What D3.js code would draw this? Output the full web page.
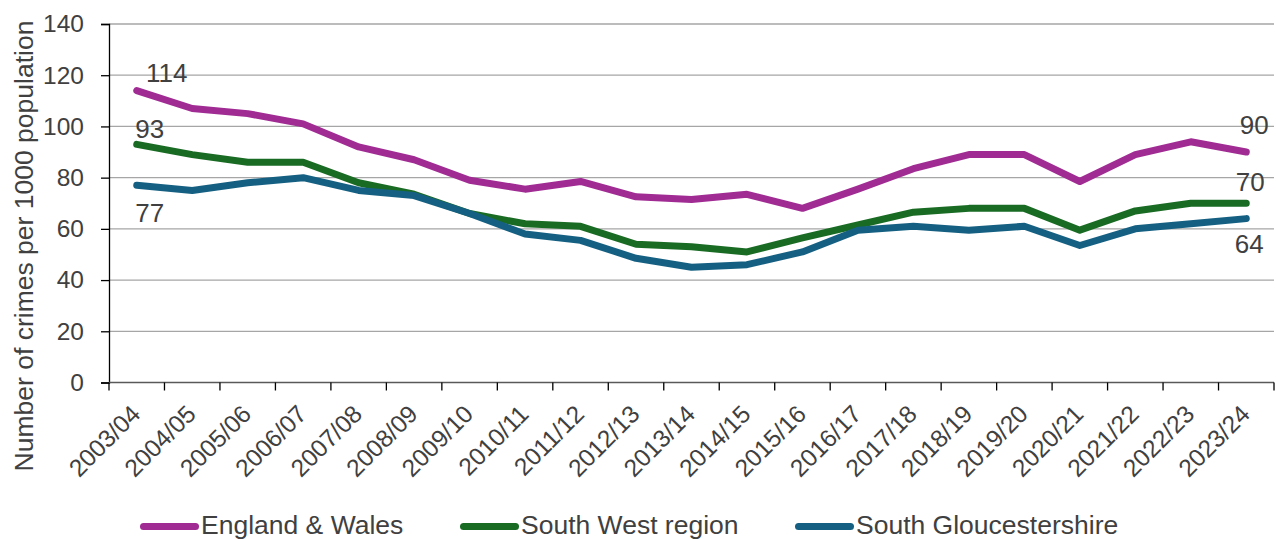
<!DOCTYPE html>
<html>
<head>
<meta charset="utf-8">
<script src="https://cdn.jsdelivr.net/npm/d3@7"></script>
<style>
  html, body { margin: 0; padding: 0; background: #fff; }
  svg { display: block; font-family: Arial, "Liberation Sans", sans-serif; }
</style>
</head>
<body>
<svg id="chart" width="1276" height="539"></svg>
<script>
const years = ["2003/04","2004/05","2005/06","2006/07","2007/08","2008/09","2009/10","2010/11","2011/12","2012/13","2013/14","2014/15","2015/16","2016/17","2017/18","2018/19","2019/20","2020/21","2021/22","2022/23","2023/24"];
const englandWales = [114,107,105,101,92,87,79,75.5,78.5,72.5,71.5,73.5,68,75.5,83.5,89,89,78.5,89,94,90];
const southWest = [93,89,86,86,78,73.5,66,62,61,54,53,51,56.5,61.5,66.5,68,68,59.5,67,70,70];
const southGlos = [77,75,78,80,75,73,66,58,55.5,48.5,45,46,51,59.5,61,59.5,61,53.5,60,62,64];
const yTicks = [0,20,40,60,80,100,120,140];
const seriesNames = ["England & Wales","South West region","South Gloucestershire"];
const colors = ["#A02B93","#196B24","#156082"];

const series = [
  {name: seriesNames[0], values: englandWales, color: colors[0]},
  {name: seriesNames[1], values: southWest, color: colors[1]},
  {name: seriesNames[2], values: southGlos, color: colors[2]}
];

const svg = d3.select("#chart");
const plotLeft = 109, plotRight = 1274, plotTop = 24, plotBottom = 382.5;
const textColor = "#404040";

const x = d3.scaleBand().domain(years).range([plotLeft, plotRight]);
const y = d3.scaleLinear().domain([0, 140]).range([plotBottom, plotTop]);
const cx = d => x(d) + x.bandwidth() / 2;

// gridlines
svg.append("g").selectAll("line").data(yTicks.filter(t => t > 0)).join("line")
  .attr("x1", plotLeft).attr("x2", plotRight)
  .attr("y1", d => y(d)).attr("y2", d => y(d))
  .attr("stroke", "#A6A6A6").attr("stroke-width", 1.3);

// y axis
const yAxis = svg.append("g").attr("transform", `translate(${plotLeft},0)`)
  .call(d3.axisLeft(y).tickValues(yTicks).tickSize(8).tickPadding(17));
yAxis.select(".domain").attr("stroke", "#000").attr("stroke-width", 1.3);
yAxis.selectAll(".tick line").attr("stroke", "#000").attr("stroke-width", 1.3);
yAxis.selectAll(".tick text").attr("fill", textColor).style("font-size", "24.5px")
  .style("font-family", "Arial, 'Liberation Sans', sans-serif");

// x axis with ticks between categories
const xAxisG = svg.append("g").attr("transform", `translate(0,${plotBottom})`);
xAxisG.append("line").attr("x1", plotLeft).attr("x2", plotRight).attr("y1", 0).attr("y2", 0)
  .attr("stroke", "#595959").attr("stroke-width", 1.3);
const boundaries = years.map(d => x(d)).concat([x(years[years.length-1]) + x.bandwidth()]);
xAxisG.selectAll("line.tk").data(boundaries).join("line").attr("class", "tk")
  .attr("x1", d => d).attr("x2", d => d).attr("y1", 0).attr("y2", 8)
  .attr("stroke", "#000").attr("stroke-width", 1.3);
xAxisG.selectAll("text").data(years).join("text")
  .attr("transform", d => `translate(${cx(d) - 1},${27}) rotate(-45)`)
  .attr("text-anchor", "end").attr("dy", "0.35em")
  .attr("fill", textColor).style("font-size", "24.5px")
  .text(d => d);

// y axis title
svg.append("text")
  .attr("transform", `translate(33,246) rotate(-90)`)
  .attr("text-anchor", "middle")
  .attr("fill", textColor).style("font-size", "26.5px")
  .text("Number of crimes per 1000 population");

// lines
const line = d3.line().x((d, i) => cx(years[i])).y(d => y(d));
svg.append("g").selectAll("path").data(series).join("path")
  .attr("d", d => line(d.values))
  .attr("fill", "none").attr("stroke", d => d.color)
  .attr("stroke-width", 7).attr("stroke-linejoin", "round").attr("stroke-linecap", "round");

// data labels
const first = years[0], last = years[years.length - 1];
const labels = [
  {yr: first, v: englandWales[0], dx: 30, dy: -18},
  {yr: first, v: southWest[0], dx: 13, dy: -15},
  {yr: first, v: southGlos[0], dx: 13, dy: 28},
  {yr: last, v: englandWales[englandWales.length-1], dx: 8, dy: -27},
  {yr: last, v: southWest[southWest.length-1], dx: 4, dy: -21},
  {yr: last, v: southGlos[southGlos.length-1], dx: 3, dy: 25}
];
svg.append("g").selectAll("text").data(labels).join("text")
  .attr("x", d => cx(d.yr) + d.dx).attr("y", d => y(d.v) + d.dy)
  .attr("text-anchor", "middle").attr("dy", "0.35em")
  .attr("fill", textColor).style("font-size", "26px")
  .text(d => Math.round(d.v));

// legend
const legendPos = [140, 460, 795];
const lg = svg.append("g").selectAll("g").data(series).join("g")
  .attr("transform", (d, i) => `translate(${legendPos[i]},526.5)`);
lg.append("line").attr("x1", 3.5).attr("x2", 55.5).attr("y1", 0).attr("y2", 0)
  .attr("stroke", d => d.color).attr("stroke-width", 7).attr("stroke-linecap", "round");
lg.append("text").attr("x", 61).attr("y", -1.5).attr("dy", "0.35em")
  .attr("fill", textColor).style("font-size", "26.5px")
  .text(d => d.name);
</script>
</body>
</html>
